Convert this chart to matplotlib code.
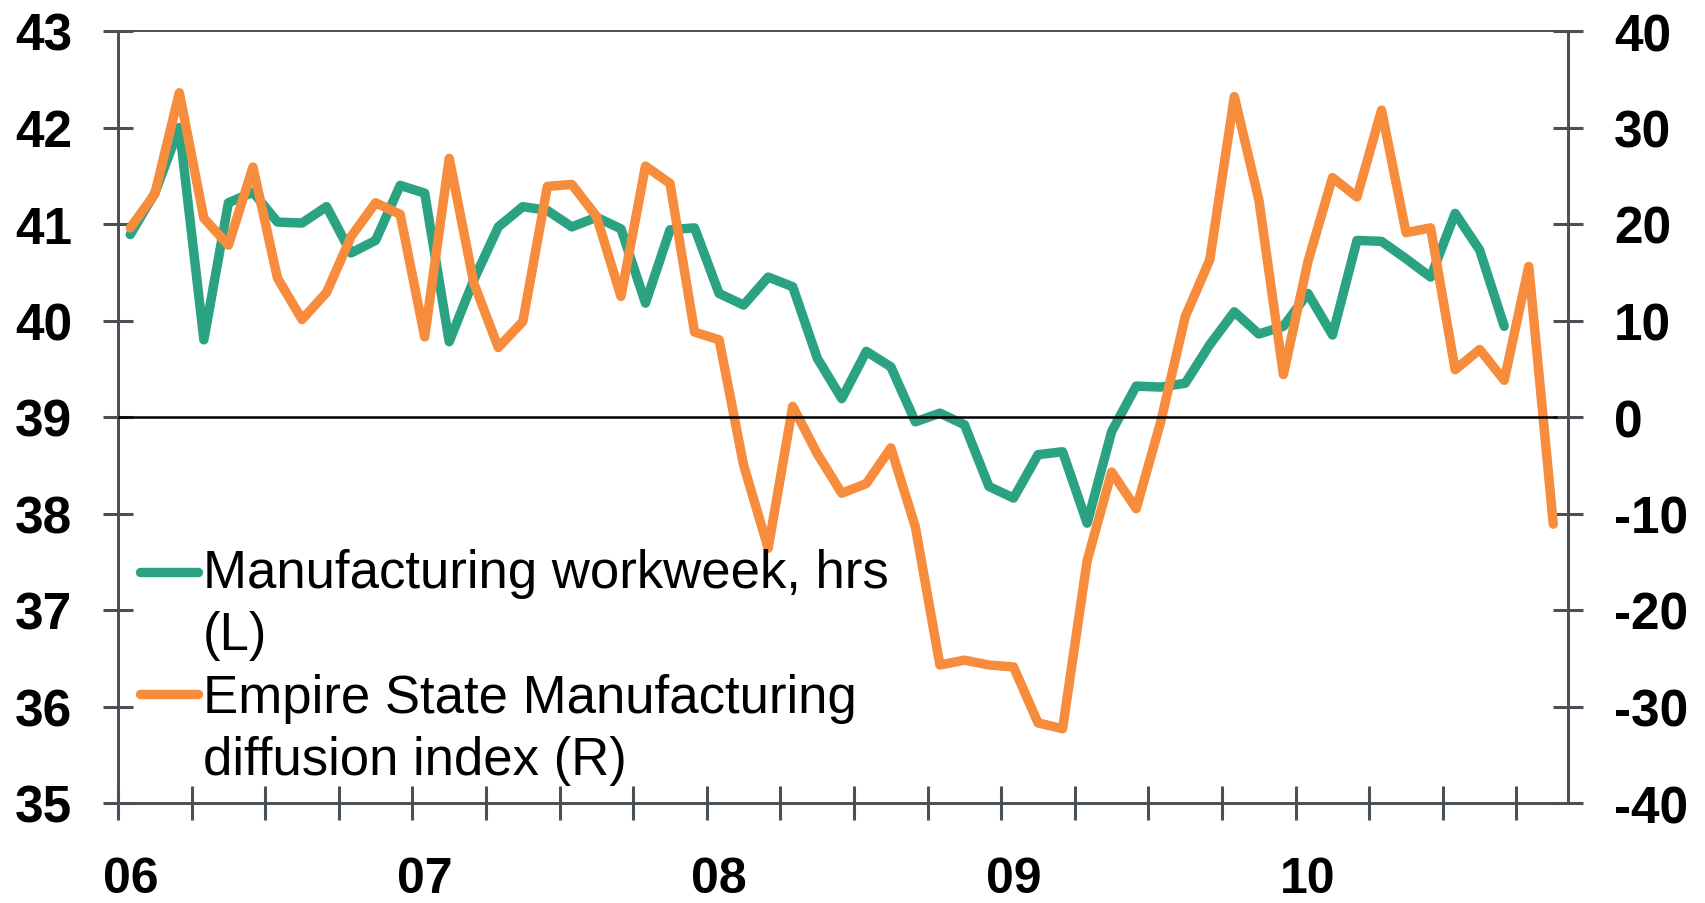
import numpy as np
import matplotlib
matplotlib.use("Agg")
import matplotlib.pyplot as plt
from matplotlib.lines import Line2D

plt.rcParams["font.family"] = ["Liberation Sans", "DejaVu Sans"]
plt.rcParams["axes.unicode_minus"] = False

# monthly data, Jan 2006 onwards
workweek = [40.89, 41.32, 42.00, 39.80, 41.22, 41.33, 41.02, 41.01, 41.18, 40.70, 40.83, 41.40,
            41.32, 39.78, 40.42, 40.97, 41.18, 41.14, 40.97, 41.07, 40.95, 40.18, 40.94, 40.96,
            40.28, 40.16, 40.45, 40.35, 39.61, 39.19, 39.68, 39.52, 38.95, 39.04, 38.92, 38.28,
            38.16, 38.61, 38.64, 37.90, 38.85, 39.32, 39.31, 39.35, 39.75, 40.09, 39.86, 39.94,
            40.28, 39.85, 40.83, 40.82, 40.64, 40.45, 41.11, 40.73, 39.94]
empire = [19.6, 23.1, 33.6, 20.6, 17.8, 25.9, 14.4, 10.1, 12.9, 18.7, 22.2, 21.0,
          8.3, 26.8, 13.9, 7.2, 9.9, 23.9, 24.1, 20.8, 12.5, 26.0, 24.2, 8.8,
          8.0, -5.0, -13.6, 1.1, -3.8, -7.9, -6.9, -3.2, -11.4, -25.7, -25.2, -25.7,
          -25.9, -31.7, -32.3, -14.9, -5.7, -9.5, -0.5, 10.4, 16.3, 33.2, 22.5, 4.4,
          16.1, 24.8, 22.8, 31.8, 19.1, 19.6, 4.9, 7.0, 3.8, 15.6, -11.1]
year_labels = ["06", "07", "08", "09", "10"]
year_pos = [0, 12, 24, 36, 48]

GREEN = "#2ba383"
ORANGE = "#f68c3c"
GREY = "#4b5056"

W, H = 1705, 904
fig = plt.figure(figsize=(W / 100, H / 100), dpi=100)
ax = fig.add_axes([118 / W, 1 - 804 / H, (1568 - 118) / W, (804 - 32) / H])
ax2 = ax.twinx()

m_ww = np.arange(len(workweek))
m_es = np.arange(len(empire))

ax.plot(m_ww, workweek, color=GREEN, lw=6.8, solid_joinstyle="round", solid_capstyle="round")
ax2.plot(m_es, empire, color=ORANGE, lw=6.8, solid_joinstyle="round", solid_capstyle="round")
ax2.hlines(0, -0.5, m_es[-1] + 0.15, color="black", lw=1.8, zorder=5)

ax.set_xlim(-0.5, 58.6)
ax.set_ylim(35, 43)
ax2.set_ylim(-40, 40)
ax.set_yticks(range(35, 44))
ax2.set_yticks(range(-40, 41, 10))

# quarterly ticks, year labels on January
ax.set_xticks(np.arange(-0.5, 57, 3))
ax.set_xticklabels([])
ax.set_xticks(year_pos, minor=True)
ax.set_xticklabels(year_labels, minor=True, fontsize=36, fontweight="bold")
ax.tick_params(axis="x", which="minor", length=0, pad=38)
ax.tick_params(axis="x", which="major", direction="inout", length=24, width=2.2, color=GREY)

ax.tick_params(axis="y", direction="inout", length=22, width=2.2, color=GREY, labelsize=37, pad=22)
ax2.tick_params(axis="y", direction="inout", length=22, width=2.2, color=GREY, labelsize=37, pad=22)
plt.setp(ax.get_yticklabels(), fontweight="bold")
plt.setp(ax2.get_yticklabels(), fontweight="bold")

for a in (ax, ax2):
    for side in ("left", "right", "bottom"):
        a.spines[side].set_color(GREY)
        a.spines[side].set_linewidth(2.0)
    a.spines["top"].set_color(GREY)
    a.spines["top"].set_linewidth(1.2)

# legend, drawn by hand so the handle sits on the first line
def fy(y):
    return 1 - y / H

fig.add_artist(Line2D([140 / W, 198 / W], [fy(573), fy(573)], color=GREEN, lw=6.8,
                      solid_capstyle="round"))
fig.add_artist(Line2D([140 / W, 198 / W], [fy(695), fy(695)], color=ORANGE, lw=6.8,
                      solid_capstyle="round"))
legend_lines = [("Manufacturing workweek, hrs", 588), ("(L)", 650),
                ("Empire State Manufacturing", 713), ("diffusion index (R)", 775)]
for txt, yb in legend_lines:
    fig.text(203 / W, fy(yb), txt, fontsize=38, va="baseline", ha="left")

fig.savefig("out.png", dpi=100)
